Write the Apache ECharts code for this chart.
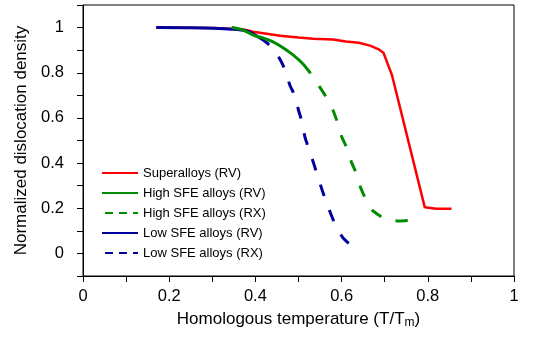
<!DOCTYPE html>
<html>
<head>
<meta charset="utf-8">
<script src="https://cdn.jsdelivr.net/npm/echarts@6/dist/echarts.min.js"></script>
<style>html,body{margin:0;padding:0;background:#fff}#c{width:540px;height:341px}</style>
</head>
<body>
<div id="c"></div>
<script>
const seriesNames = ['Superalloys (RV)', 'High SFE alloys (RV)', 'High SFE alloys (RX)', 'Low SFE alloys (RV)', 'Low SFE alloys (RX)'];
const xTickLabels = ['0', '0.2', '0.4', '0.6', '0.8', '1'];
const yTickLabels = ['0', '0.2', '0.4', '0.6', '0.8', '1'];

const superalloysRV = [[0.17,1.0],[0.30,0.998],[0.37,0.993],[0.395,0.982],[0.43,0.972],[0.457,0.964],[0.50,0.956],[0.534,0.951],[0.58,0.947],[0.61,0.938],[0.64,0.933],[0.666,0.92],[0.685,0.905],[0.697,0.889],[0.717,0.789],[0.793,0.204],[0.82,0.198],[0.855,0.198]];
const highSfeRV = [[0.345,1.0],[0.37,0.99],[0.395,0.967],[0.42,0.952],[0.442,0.936],[0.465,0.91],[0.488,0.878],[0.51,0.84],[0.527,0.80]];
const highSfeRX = [[0.527,0.80],[0.548,0.74],[0.565,0.69],[0.58,0.634],[0.591,0.577],[0.60,0.518],[0.612,0.468],[0.623,0.403],[0.635,0.352],[0.644,0.292],[0.656,0.24],[0.665,0.205],[0.673,0.188],[0.698,0.156],[0.72,0.146],[0.734,0.144],[0.762,0.147]];
const lowSfeRV = [[0.17,1.0],[0.25,0.999],[0.345,0.993],[0.38,0.985],[0.41,0.955]];
const lowSfeRX = [[0.41,0.955],[0.425,0.935],[0.442,0.904],[0.457,0.86],[0.469,0.812],[0.48,0.745],[0.492,0.696],[0.50,0.634],[0.509,0.577],[0.515,0.515],[0.524,0.463],[0.535,0.40],[0.544,0.344],[0.555,0.28],[0.565,0.225],[0.578,0.16],[0.589,0.114],[0.604,0.067],[0.629,0.025]];

const RED = '#ff0000', GREEN = '#008c00', BLUE = '#00009c';
const FONT = 'Liberation Sans, Arial, sans-serif';

const chart = echarts.init(document.getElementById('c'), null, {renderer: 'canvas'});
chart.setOption({
  animation: false,
  textStyle: {fontFamily: FONT, color: '#000'},
  grid: {left: 83, right: 26, top: 5, bottom: 65, show: true, borderColor: '#000', borderWidth: 1, backgroundColor: 'transparent'},
  legend: {
    orient: 'vertical', left: 101, top: 166, padding: 0,
    itemWidth: 36, itemHeight: 14, itemGap: 6,
    textStyle: {fontSize: 13, color: '#000', fontFamily: FONT, lineHeight: 14},
    itemStyle: {opacity: 0},
    lineStyle: {width: 2},
    data: [
      {name: seriesNames[0]},
      {name: seriesNames[1]},
      {name: seriesNames[2], lineStyle: {width: 2, type: [8, 6]}},
      {name: seriesNames[3]},
      {name: seriesNames[4], lineStyle: {width: 2, type: [8, 6]}}
    ]
  },
  xAxis: {
    type: 'value', min: 0, max: 1, interval: 0.1,
    name: '{a|Homologous temperature (T/T}{b|m}{a|)}',
    nameLocation: 'middle', nameGap: 31,
    nameTextStyle: {rich: {a: {fontSize: 17, fontFamily: FONT, color: '#000', lineHeight: 20}, b: {fontSize: 12, fontFamily: FONT, color: '#000', verticalAlign: 'bottom', lineHeight: 14, padding: [7, 0, 0, 0]}}},
    axisLine: {onZero: false, lineStyle: {color: '#000', width: 1}},
    axisTick: {show: true, inside: false, length: 6, lineStyle: {color: '#000'}},
    axisLabel: {fontSize: 16.5, color: '#000', margin: 12, fontFamily: FONT,
      formatter: v => { const r = Math.round(v * 10); return r % 2 === 0 ? xTickLabels[r / 2] : ''; }},
    splitLine: {show: false}
  },
  yAxis: {
    type: 'value', min: -0.1, max: 1.1, interval: 0.1,
    name: 'Normalized dislocation density',
    nameLocation: 'middle', nameGap: 53, nameRotate: 90,
    nameTextStyle: {fontSize: 17, color: '#000', fontFamily: FONT},
    axisLine: {show: true, onZero: false, lineStyle: {color: '#000', width: 1}},
    axisTick: {show: true, inside: false, length: 6, lineStyle: {color: '#000'}},
    axisLabel: {fontSize: 16.5, color: '#000', margin: 19, fontFamily: FONT,
      formatter: v => { const r = Math.round(v * 10); return (r >= 0 && r <= 10 && r % 2 === 0) ? yTickLabels[r / 2] : ''; }},
    splitLine: {show: false}
  },
  series: [
    {name: seriesNames[0], type: 'line', data: superalloysRV, symbol: 'none', z: 2, smooth: false,
      lineStyle: {color: RED, width: 2.5}, itemStyle: {color: RED}},
    {name: seriesNames[1], type: 'line', data: highSfeRV, symbol: 'none', z: 4, smooth: 0.3,
      lineStyle: {color: GREEN, width: 3}, itemStyle: {color: GREEN}},
    {name: seriesNames[2], type: 'line', data: highSfeRX, symbol: 'none', z: 4, smooth: 0.2,
      lineStyle: {color: GREEN, width: 3, type: [12, 15], dashOffset: 11}, itemStyle: {color: GREEN}},
    {name: seriesNames[3], type: 'line', data: lowSfeRV, symbol: 'none', z: 3, smooth: 0.3,
      lineStyle: {color: BLUE, width: 3}, itemStyle: {color: BLUE}},
    {name: seriesNames[4], type: 'line', data: lowSfeRX, symbol: 'none', z: 3, smooth: 0.2,
      lineStyle: {color: BLUE, width: 3, type: [12, 15]}, itemStyle: {color: BLUE}}
  ]
});
</script>
</body>
</html>
